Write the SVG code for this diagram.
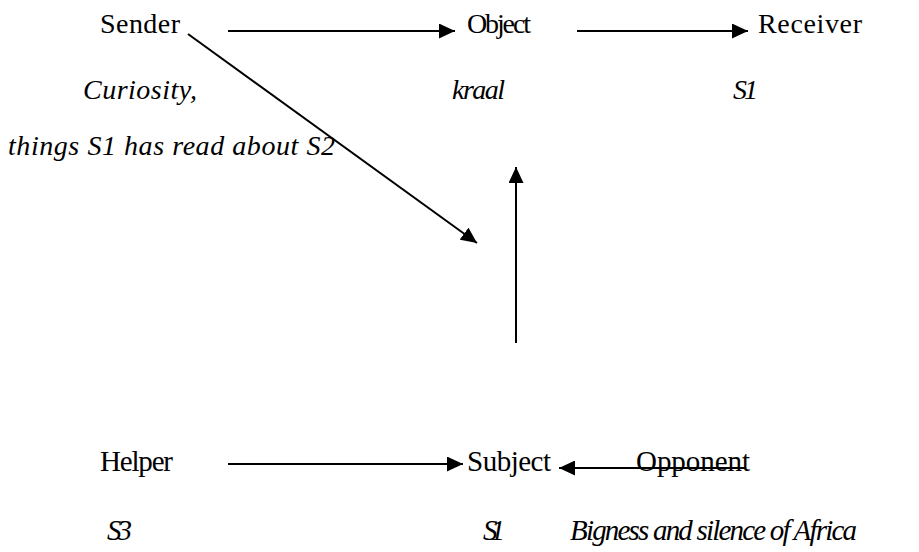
<svg xmlns="http://www.w3.org/2000/svg" width="919" height="552" viewBox="0 0 919 552">
<style>
.t{font-family:"Liberation Serif","Times New Roman",serif;font-size:28px;fill:#000}
.b{font-size:29px}
.i{font-style:italic}
.c{stroke:#000;stroke-width:2;fill:none}
</style>
<defs>
<marker id="ahl" viewBox="0 0 10 10" refX="10" refY="5" markerWidth="16" markerHeight="15" markerUnits="userSpaceOnUse" orient="auto" preserveAspectRatio="none">
<path d="M0,0 L10,5 L0,10 z" fill="#000"/>
</marker>
</defs>
<rect width="919" height="552" fill="#fff"/>
<g id="sender"><text class="t" x="100" y="33" textLength="80">Sender</text></g>
<g id="object"><text class="t" x="467" y="33" textLength="64">Object</text></g>
<g id="receiver"><text class="t" x="758" y="33" textLength="104">Receiver</text></g>
<g id="sender-label"><text class="t i" x="83" y="99" textLength="114">Curiosity,</text>
<text class="t i" x="8" y="155" textLength="327">things S1 has read about S2</text></g>
<g id="object-label"><text class="t i" x="452" y="99" textLength="53">kraal</text></g>
<g id="receiver-label"><text class="t i" x="733" y="99" textLength="25">S1</text></g>
<g id="helper"><text class="t b" x="100" y="471" textLength="73">Helper</text></g>
<g id="subject"><text class="t b" x="467" y="471" textLength="84">Subject</text></g>
<g id="opponent"><text class="t b" x="636" y="471" textLength="114">Opponent</text></g>
<g id="helper-label"><text class="t b i" x="107" y="540" textLength="25">S3</text></g>
<g id="subject-label"><text class="t b i" x="483" y="540" textLength="22">S1</text></g>
<g id="opponent-label"><text class="t b i" x="570" y="540" textLength="287">Bigness and silence of Africa</text></g>
<g id="connectors">
<line class="c" x1="228" y1="31" x2="455" y2="31" marker-end="url(#ahl)"/>
<line class="c" x1="577" y1="31" x2="748" y2="31" marker-end="url(#ahl)"/>
<line class="c" x1="188" y1="34" x2="477" y2="243" marker-end="url(#ahl)"/>
<line class="c" x1="516" y1="343" x2="516" y2="167" marker-end="url(#ahl)"/>
<line class="c" x1="228" y1="464" x2="463" y2="464" marker-end="url(#ahl)"/>
<line class="c" x1="745" y1="468" x2="559" y2="468" marker-end="url(#ahl)"/>
</g>
</svg>
